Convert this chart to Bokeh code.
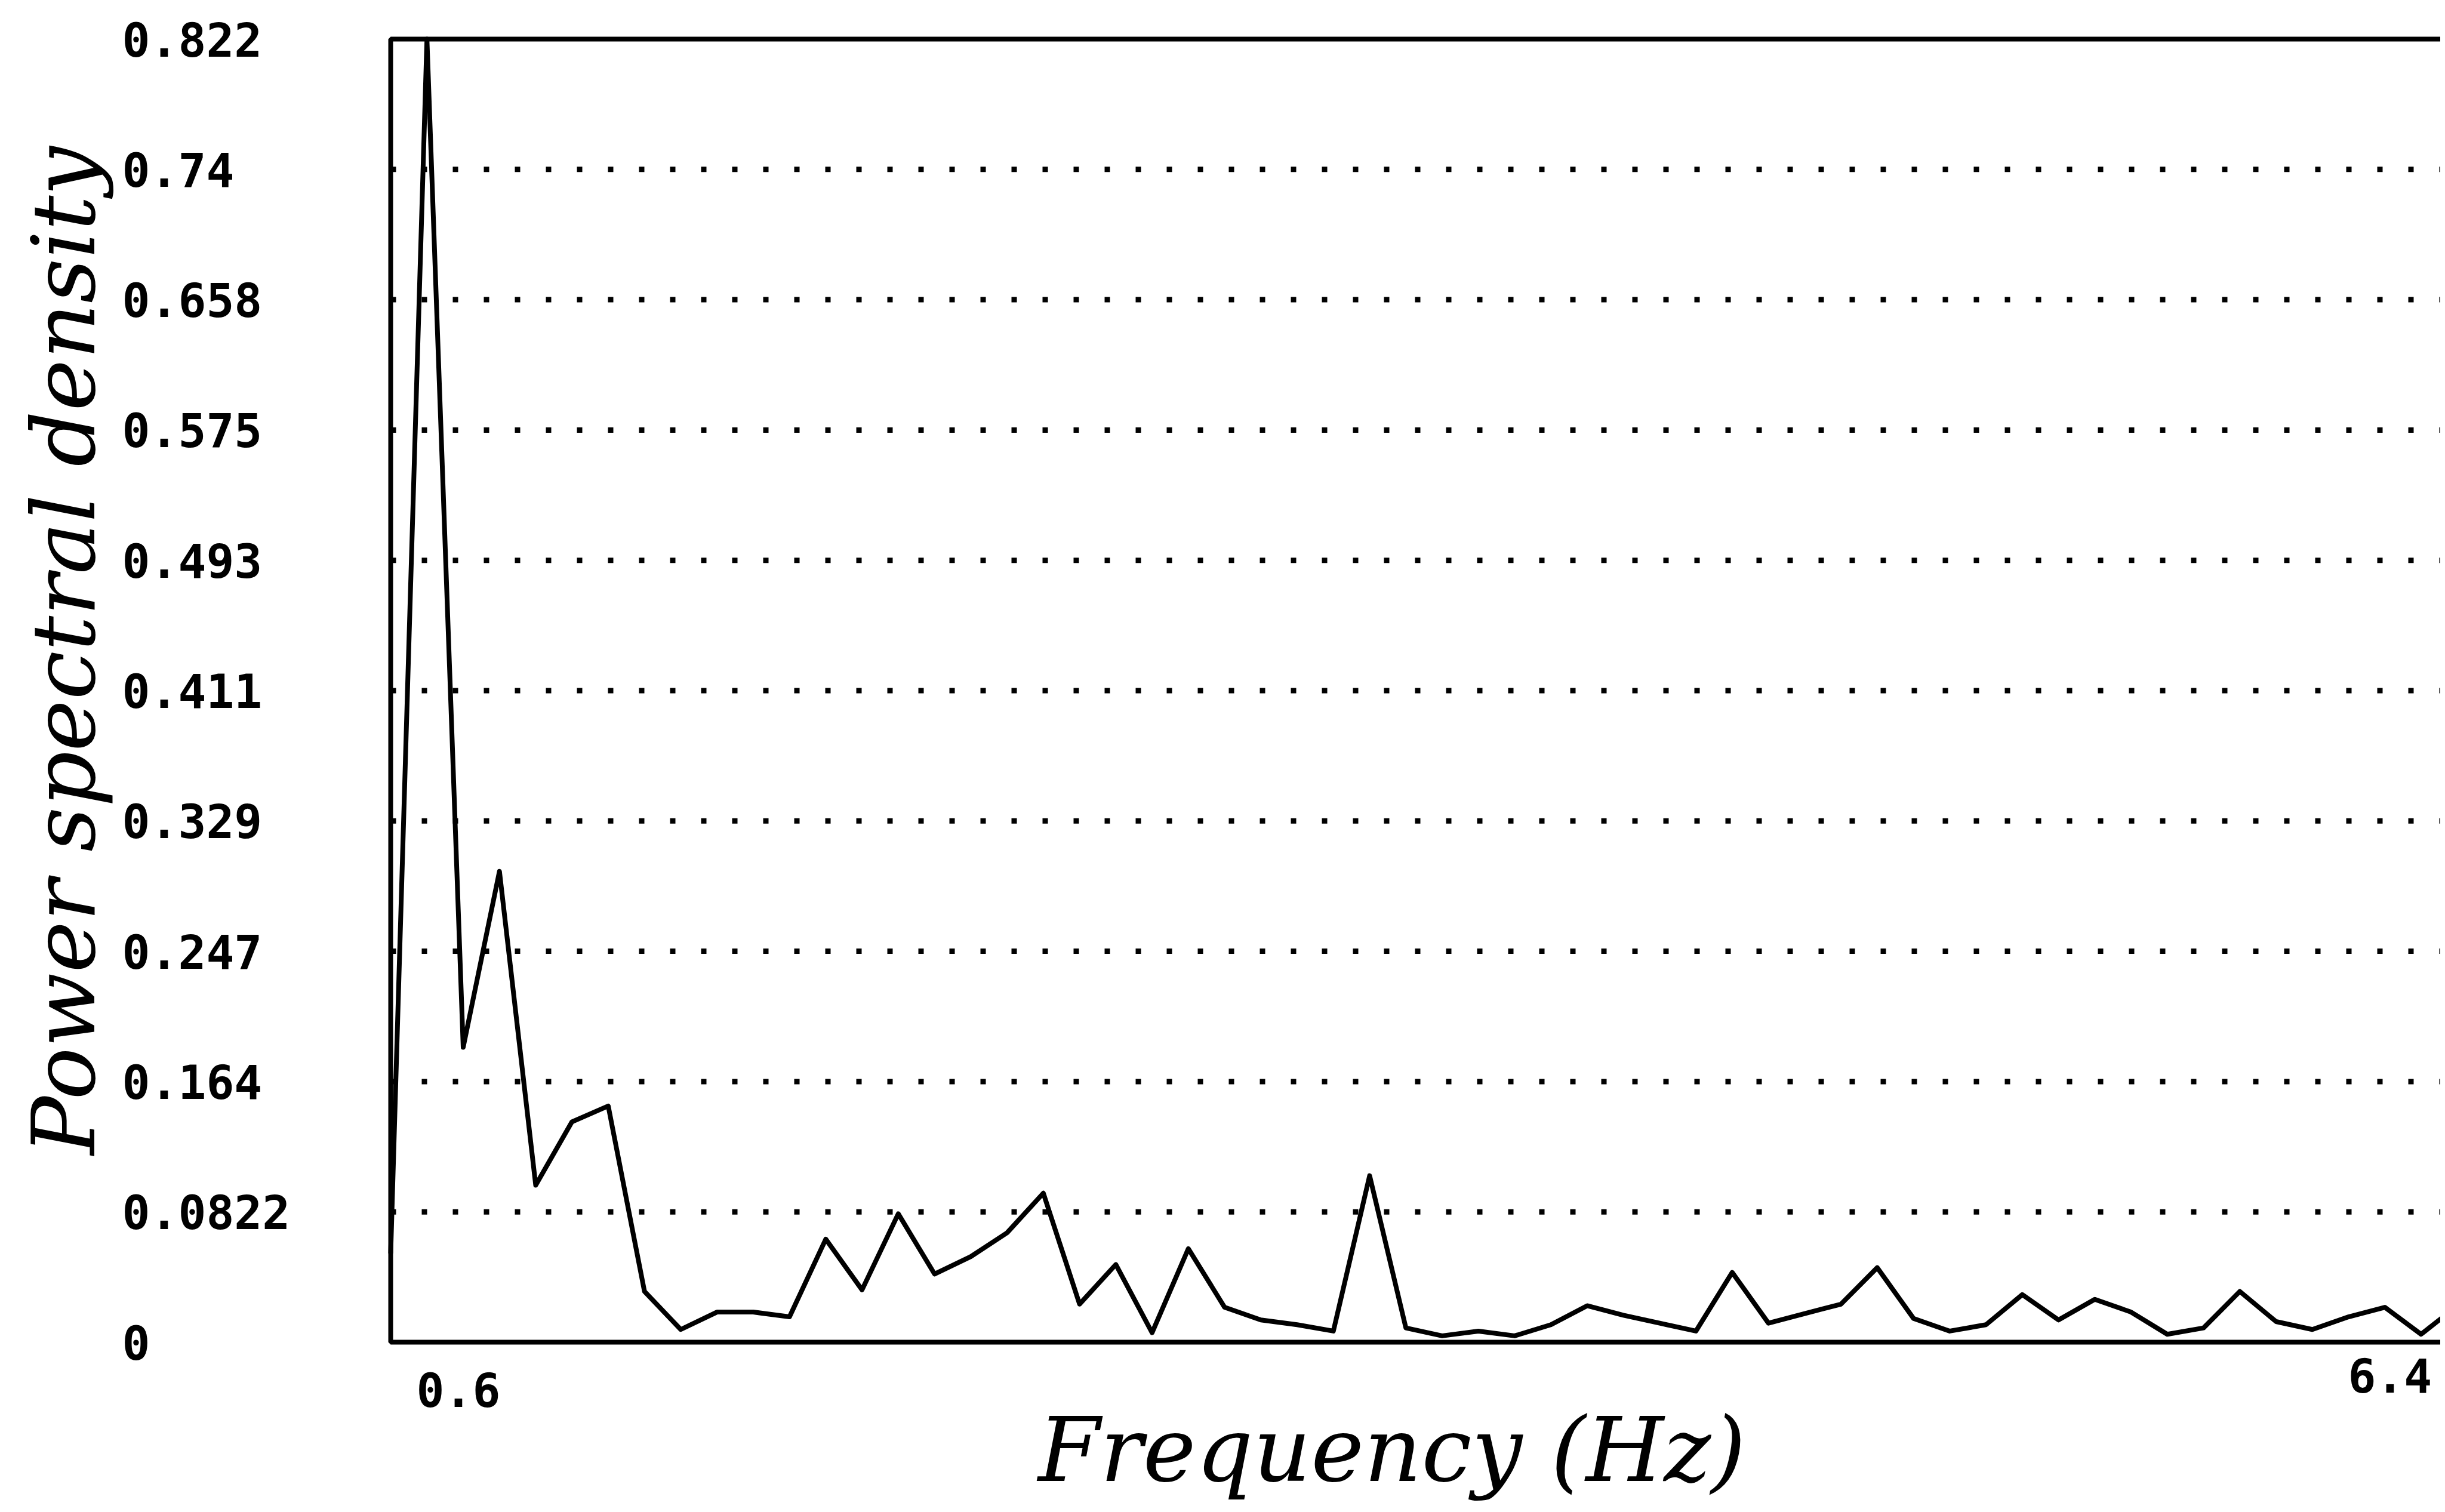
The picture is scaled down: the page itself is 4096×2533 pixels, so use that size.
import math
from bokeh.plotting import figure
from bokeh.models import Range1d, Label, BoxAnnotation
from bokeh.embed import file_html
from bokeh.resources import INLINE

# ---------------- data ----------------
frequency_hz = [0.6, 0.7, 0.8, 0.9, 1.0, 1.1, 1.2, 1.3, 1.4, 1.5,
                1.6, 1.7, 1.8, 1.9, 2.0, 2.1, 2.2, 2.3, 2.4, 2.5,
                2.6, 2.7, 2.8, 2.9, 3.0, 3.1, 3.2, 3.3, 3.4, 3.5,
                3.6, 3.7, 3.8, 3.9, 4.0, 4.1, 4.2, 4.3, 4.4, 4.5,
                4.6, 4.7, 4.8, 4.9, 5.0, 5.1, 5.2, 5.3, 5.4, 5.5,
                5.6, 5.7, 5.8, 5.9, 6.0, 6.1, 6.2, 6.3]
power_spectral_density = [0.056, 0.822, 0.186, 0.297, 0.099, 0.139, 0.149, 0.032, 0.008, 0.019,
                          0.019, 0.016, 0.065, 0.033, 0.081, 0.043, 0.054, 0.069, 0.094, 0.024,
                          0.049, 0.006, 0.059, 0.022, 0.014, 0.011, 0.007, 0.105, 0.009, 0.004,
                          0.007, 0.004, 0.011, 0.023, 0.017, 0.012, 0.007, 0.044, 0.012, 0.018,
                          0.024, 0.047, 0.015, 0.007, 0.011, 0.030, 0.014, 0.027, 0.019, 0.005,
                          0.009, 0.032, 0.013, 0.008, 0.016, 0.022, 0.005, 0.023]

ytick_values = [0.0, 0.0822, 0.1644, 0.2466, 0.3288, 0.411, 0.4932, 0.5754, 0.6576, 0.7398, 0.822]
ytick_labels = ["0", "0.0822", "0.164", "0.247", "0.329", "0.411", "0.493", "0.575", "0.658", "0.74", "0.822"]
grid_values = [0.0822, 0.1644, 0.2466, 0.3288, 0.411, 0.4932, 0.5754, 0.6576, 0.7398]
xtick_values = [0.6, 6.4]
xtick_labels = ["0.6", "6.4"]
x_title = "Frequency (Hz)"
y_title = "Power spectral density"

# ---------------- layout (pixels) ----------------
W, H = 4088, 2525
FRAME_L, FRAME_T, FRAME_B = 654, 65, 2248
X_MIN, X_MAX = 0.6, 6.4          # frequency axis extent (right end lies past the crop)
Y_MIN, Y_MAX = 0.0, 0.822
PX_PER_HZ = 607.4
PX_PER_UNIT = (FRAME_B - FRAME_T) / (Y_MAX - Y_MIN)

x_lo = X_MIN - FRAME_L / PX_PER_HZ
x_hi = X_MIN + (W - FRAME_L) / PX_PER_HZ
y_lo = Y_MIN - (H - FRAME_B) / PX_PER_UNIT
y_hi = Y_MAX + FRAME_T / PX_PER_UNIT

p = figure(width=W, height=H, output_backend="svg", toolbar_location=None,
           x_range=Range1d(x_lo, x_hi), y_range=Range1d(y_lo, y_hi),
           x_axis_location=None, y_axis_location=None,
           min_border=0, min_border_left=0, min_border_right=0,
           min_border_top=0, min_border_bottom=0,
           background_fill_color="white", border_fill_color="white")
p.outline_line_color = None
p.grid.visible = False

# dotted horizontal grid lines inside the plot box
n = len(grid_values)
p.segment(x0=[X_MIN] * n, y0=grid_values, x1=[X_MAX] * n, y1=grid_values,
          line_color="black", line_width=9, line_dash="9 43", line_dash_offset=0)

# plot box (right side falls outside the picture, as in the reference)
p.add_layout(BoxAnnotation(left=X_MIN, right=X_MAX, bottom=Y_MIN, top=Y_MAX,
                           fill_color=None, fill_alpha=0,
                           line_color="black", line_alpha=1.0, line_width=8))

p.line(frequency_hz, power_spectral_density, line_color="black", line_width=8,
       line_join="round")

TICK_FONT = "DejaVu Sans Mono"
TICK_SIZE = "78px"
for v, t in zip(ytick_values, ytick_labels):
    p.add_layout(Label(x=X_MIN, y=v, text=t, x_offset=-450, y_offset=0,
                       text_align="left", text_baseline="middle",
                       text_font=TICK_FONT, text_font_style="bold",
                       text_font_size=TICK_SIZE, text_color="black"))

xtick_offsets = [(43, -79), (-244, -55)]
for v, t, (dx, dy) in zip(xtick_values, xtick_labels, xtick_offsets):
    p.add_layout(Label(x=v, y=Y_MIN, text=t, x_offset=dx, y_offset=dy,
                       text_align="left", text_baseline="middle",
                       text_font=TICK_FONT, text_font_style="bold",
                       text_font_size=TICK_SIZE, text_color="black"))

p.add_layout(Label(x=(X_MIN + X_MAX) / 2, y=Y_MIN, text=x_title,
                   x_offset=-84, y_offset=-180,
                   text_align="center", text_baseline="alphabetic",
                   text_font="DejaVu Serif", text_font_style="italic",
                   text_font_size="150px", text_color="black"))

p.add_layout(Label(x=X_MIN, y=(Y_MIN + Y_MAX) / 2, text=y_title,
                   x_offset=-548, y_offset=67, angle=math.pi / 2,
                   text_align="center", text_baseline="alphabetic",
                   text_font="DejaVu Serif", text_font_style="italic",
                   text_font_size="146px", text_color="black"))

open("out.html", "w").write(file_html(p, INLINE))
